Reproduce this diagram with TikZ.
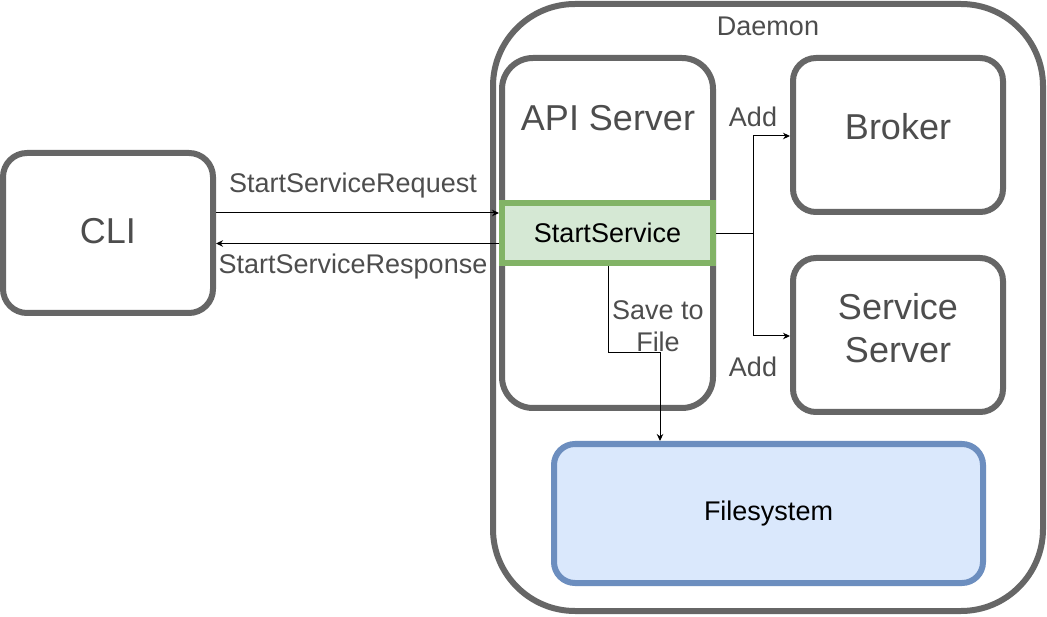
\documentclass[tikz,border=0pt]{standalone}
\usepackage{fontspec}
\setmainfont{Liberation Sans}
\usetikzlibrary{arrows.meta}
\definecolor{boxgray}{HTML}{666666}
\definecolor{txtgray}{HTML}{4D4D4D}
\definecolor{ssfill}{HTML}{D5E8D4}
\definecolor{ssline}{HTML}{82B366}
\definecolor{fsfill}{HTML}{DAE8FC}
\definecolor{fsline}{HTML}{6C8EBF}
\newcommand{\bigtxt}{\fontsize{36}{43}\selectfont}
\newcommand{\smtxt}{\fontsize{27}{32}\selectfont}
\tikzset{
  graybox/.style={draw=boxgray, line width=6pt, fill=white, inner sep=0pt},
  biglabel/.style={text=txtgray, font=\bigtxt, align=center, inner sep=0pt},
  edgelabel/.style={text=txtgray, font=\smtxt, align=center, inner sep=0pt},
  arr/.style={draw=black, line width=1pt, -{Stealth[length=7pt,width=6.5pt]}},
  plainline/.style={draw=black, line width=1pt}
}
\begin{document}
\begin{tikzpicture}[x=1pt,y=-1pt]
\useasboundingbox (0,0) rectangle (1047,617);
% Daemon container
\node[graybox, minimum width=550pt, minimum height=607pt, rounded corners=82pt] (daemon) at (768,307.5) {};
\node[edgelabel] (daemonlbl) at (768,26) {Daemon};
% CLI
\node[graybox, minimum width=210pt, minimum height=160pt, rounded corners=24pt] (cli) at (108,233) {};
\node[biglabel] (clilbl) at (108,231) {CLI};
% API Server
\node[graybox, minimum width=211pt, minimum height=350pt, rounded corners=31pt] (api) at (607.5,233) {};
\node[biglabel] (apilbl) at (608,118) {API Server};
% StartService
\node[draw=ssline, fill=ssfill, line width=6pt, minimum width=211pt, minimum height=60pt, inner sep=0pt, font=\smtxt] (ss) at (607.5,233.3) {StartService};
% Broker
\node[graybox, minimum width=210pt, minimum height=154pt, rounded corners=23pt] (broker) at (898,135) {};
\node[biglabel] (brokerlbl) at (898,127) {Broker};
% Service Server
\node[graybox, minimum width=210pt, minimum height=154pt, rounded corners=23pt] (svc) at (898,335) {};
\node[biglabel] (svclbl) at (898,328) {Service\\Server};
% Filesystem
\node[draw=fsline, fill=fsfill, line width=6pt, minimum width=429pt, minimum height=139pt, rounded corners=21pt, inner sep=0pt, font=\smtxt] (fs) at (768.5,513.5) {Filesystem};
% CLI <-> StartService
\draw[arr] (cli.east |- 0,213) -- (ss.west |- 0,213);
\draw[arr] (ss.west |- 0,243.5) -- (cli.east |- 0,243.5);
\node[edgelabel] (reqlbl) at (353,186) {StartServiceRequest};
\node[edgelabel] (resplbl) at (353,267) {StartServiceResponse};
% StartService -> Broker / Service Server
\coordinate (fork) at (753,233.3);
\draw[plainline] (ss.east |- fork) -- (fork);
\draw[arr] (fork) |- (broker.west |- 0,136);
\draw[arr] (fork) |- (svc.west |- 0,336);
\node[edgelabel] (add1) at (753,117) {Add};
\node[edgelabel] (add2) at (753,367) {Add};
% Save to File
\coordinate (bend) at (608,353);
\draw[arr] (ss.south -| bend) -- (bend) -| (fs.north -| 660,0);
\node[edgelabel] (savelbl) at (658,326) {Save to\\File};
\end{tikzpicture}
\end{document}
